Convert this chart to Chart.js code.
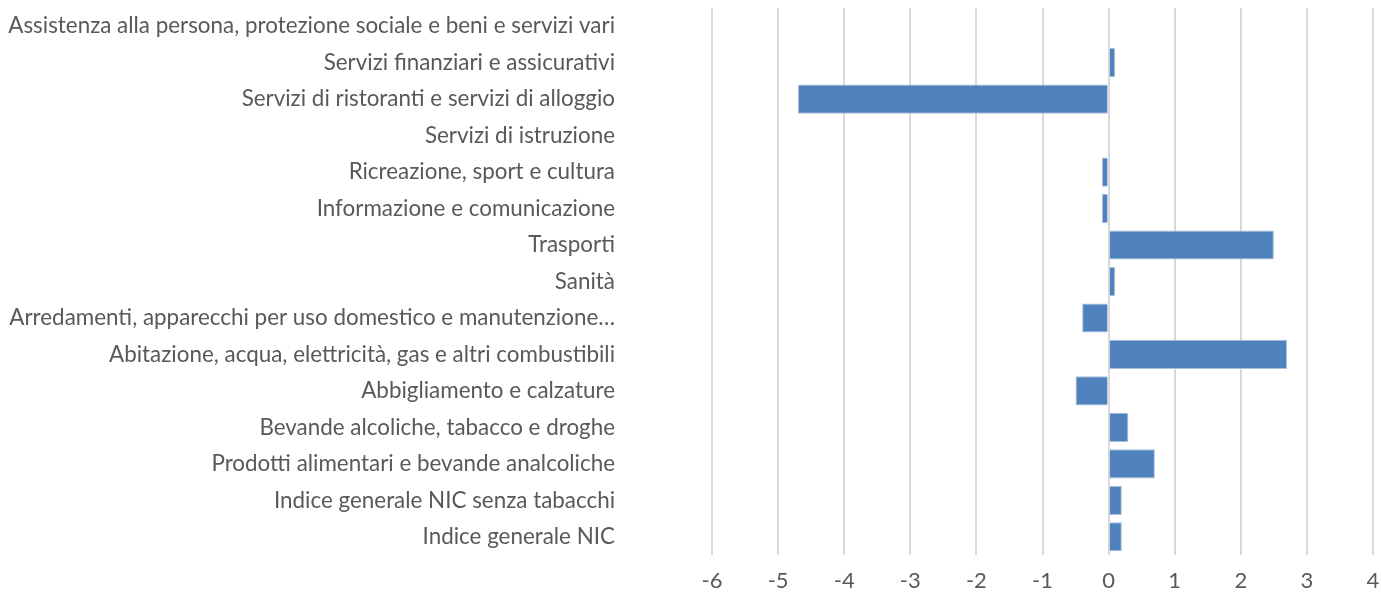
<!DOCTYPE html>
<html>
<head>
<meta charset="utf-8">
<script src="https://cdn.jsdelivr.net/npm/chart.js@4/dist/chart.umd.min.js"></script>
<style>
  html, body { margin: 0; padding: 0; background: #fff; }
  canvas { display: block; }
</style>
</head>
<body>
<canvas id="myChart" width="1381" height="599"></canvas>
<script>
// categorie, dall'alto verso il basso
const categorie = [
    'Assistenza alla persona, protezione sociale e beni e servizi vari',
    'Servizi finanziari e assicurativi',
    'Servizi di ristoranti e servizi di alloggio',
    'Servizi di istruzione',
    'Ricreazione, sport e cultura',
    'Informazione e comunicazione',
    'Trasporti',
    'Sanità',
    'Arredamenti, apparecchi per uso domestico e manutenzione…',
    'Abitazione, acqua, elettricità, gas e altri combustibili',
    'Abbigliamento e calzature',
    'Bevande alcoliche, tabacco e droghe',
    'Prodotti alimentari e bevande analcoliche',
    'Indice generale NIC senza tabacchi',
    'Indice generale NIC'
];
const valori = [0, 0.1, -4.7, 0, -0.1, -0.1, 2.5, 0.1, -0.4, 2.7, -0.5, 0.3, 0.7, 0.2, 0.2];
const xMin = -6;
const xMax = 4;

window.onload = function () {
    const ctx = document.getElementById('myChart').getContext('2d');
    const chart = new Chart(ctx, {
        type: 'bar',
        data: {
            labels: categorie,
            datasets: [{
                data: valori,
                backgroundColor: '#4F81BD',
                borderColor: '#A9C0DF',
                borderWidth: 1,
                categoryPercentage: 1,
                barPercentage: 0.8
            }]
        },
        options: {
            indexAxis: 'y',
            responsive: false,
            animation: false,
            layout: { padding: { top: 8, bottom: 0, left: 0, right: 0 } },
            plugins: {
                legend: { display: false },
                tooltip: { enabled: false }
            },
            scales: {
                x: {
                    min: xMin,
                    max: xMax,
                    ticks: {
                        stepSize: 1,
                        color: '#595959',
                        font: { family: 'Lato', size: 22 },
                        padding: 13
                    },
                    grid: { color: '#D9D9D9', lineWidth: 2, drawTicks: false },
                    border: { display: false },
                    afterFit: function (scale) {
                        scale.height = 44;
                        scale.paddingRight = 8;
                    }
                },
                y: {
                    ticks: {
                        color: '#595959',
                        font: { family: 'Lato', size: 22.4, lineHeight: 0.7 },
                        padding: 0,
                        autoSkip: false
                    },
                    // tickLength fa da spazio tra etichette e area del grafico
                    grid: { display: false, drawTicks: true, tickLength: 97 },
                    border: { display: false },
                    afterFit: function (scale) { scale.width = 712; }
                }
            }
        }
    });
}
</script>
</body>
</html>
